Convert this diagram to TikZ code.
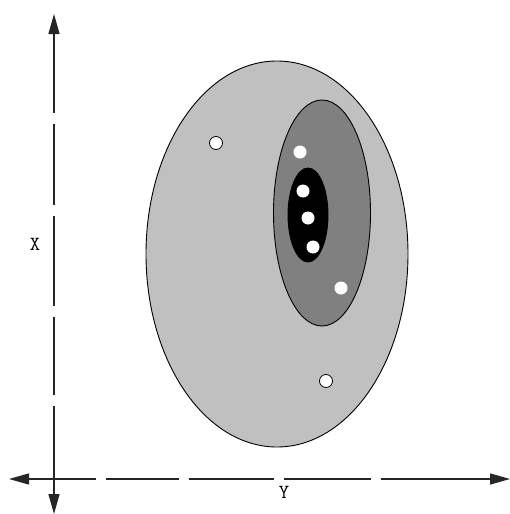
\documentclass[tikz,border=0pt]{standalone}
\usepackage{fontspec}
\usetikzlibrary{shapes.geometric,arrows.meta}
\definecolor{lightgr}{HTML}{C0C0C0}
\definecolor{midgr}{HTML}{808080}
\tikzset{
  region/.style={ellipse,draw=black,line width=0.9pt,inner sep=0pt},
  wdot/.style={circle,fill=white,inner sep=0pt,minimum size=13pt},
  odot/.style={circle,fill=white,draw=black,line width=0.8pt,inner sep=0pt,minimum size=13pt},
  axis/.style={line width=1.4pt,draw=black!85,{Triangle[length=20pt,width=11pt]}-{Triangle[length=20pt,width=11pt]}},
  lbl/.style={font=\ttfamily\fontsize{20}{20}\selectfont,inner sep=0pt}
}
\begin{document}
\begin{tikzpicture}[x=1pt,y=-1pt]
\useasboundingbox (0,0) rectangle (510,514);
\node[region,fill=lightgr,minimum width=262pt,minimum height=386pt] (outer) at (277,254) {};
\node[region,fill=midgr,minimum width=97pt,minimum height=226pt] (mid) at (322,213) {};
\node[region,fill=black,minimum width=40pt,minimum height=94pt] (core) at (308,215) {};
\node[wdot] (d1) at (300,152) {};
\node[wdot] (d2) at (303,191) {};
\node[wdot] (d3) at (308,218) {};
\node[wdot] (d4) at (313,247) {};
\node[wdot] (d5) at (341,288) {};
\node[odot] (o1) at (216,143) {};
\node[odot] (o2) at (326,381) {};
\coordinate (vt) at (54,14);
\coordinate (vb) at (54,514);
\coordinate (hl) at (9,479);
\coordinate (hr) at (510,479);
\draw[axis,dash pattern=on 79pt off 11pt on 81pt off 11pt on 90pt off 11pt on 78pt off 11pt on 88pt off 11pt] (vt) -- (vb);
\draw[axis,dash pattern=on 67pt off 10pt on 73pt off 10pt on 85pt off 10pt on 87pt off 10pt on 120pt off 10pt] (hl) -- (hr);
\node[lbl] (xl) at (35,244) {X};
\node[lbl] (yl) at (284,492) {Y};
\end{tikzpicture}
\end{document}
